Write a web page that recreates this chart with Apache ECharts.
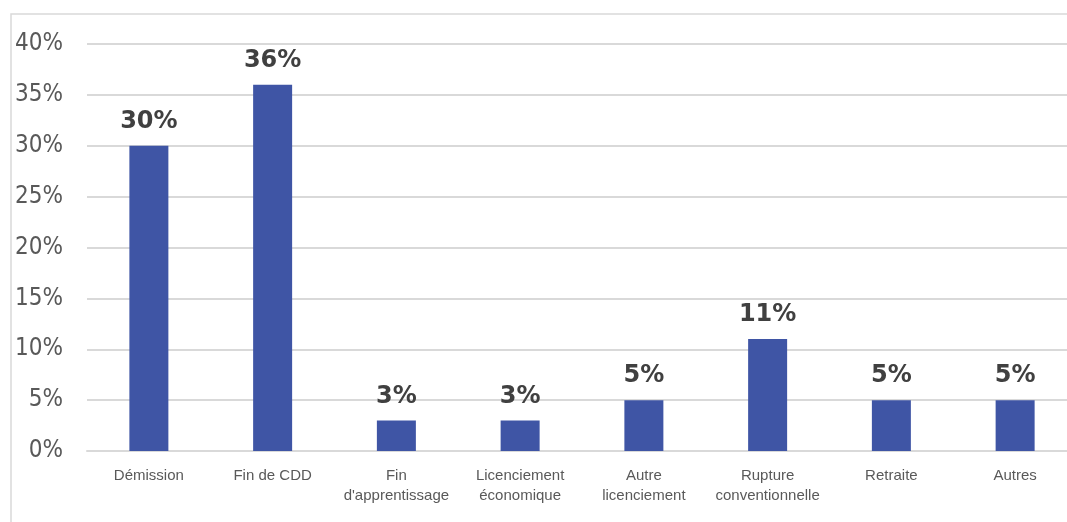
<!DOCTYPE html>
<html><head><meta charset="utf-8">
<script src="https://cdn.jsdelivr.net/npm/echarts@6/dist/echarts.min.js"></script>
<style>html,body{margin:0;padding:0;background:#fff}#c{width:1067px;height:522px}</style>
</head><body><div id="c"></div>
<script>
const categories = ['Démission','Fin de CDD',"Fin\nd'apprentissage",'Licenciement\néconomique','Autre\nlicenciement','Rupture\nconventionnelle','Retraite','Autres'];
const values = [30, 36, 3, 3, 5, 11, 5, 5];
const yTicks = {min: 0, max: 40, interval: 5};

const chart = echarts.init(document.getElementById('c'), null, {renderer: 'canvas'});
chart.setOption({
  animation: false,
  backgroundColor: '#fff',
  graphic: [{
    type: 'rect', z: -10,
    shape: {x: 11, y: 14, width: 1200, height: 700},
    style: {fill: 'none', stroke: '#D9D9D9', lineWidth: 1.5}
  }],
  grid: {left: 87, width: 990, top: 44, bottom: 71, containLabel: false, outerBoundsMode: 'none'},
  xAxis: {
    type: 'category', data: categories,
    axisLine: {show: true, lineStyle: {color: '#D9D9D9', width: 2}},
    axisTick: {show: false},
    axisLabel: {interval: 0, color: '#595959', fontFamily: 'Liberation Sans', fontSize: 15, lineHeight: 20, margin: 15}
  },
  yAxis: {
    type: 'value', min: yTicks.min, max: yTicks.max, interval: yTicks.interval,
    axisLine: {show: false}, axisTick: {show: false},
    splitLine: {lineStyle: {color: '#D9D9D9', width: 2}},
    axisLabel: {formatter: v => v + '%', color: '#595959', fontFamily: "'DejaVu Sans Condensed', 'DejaVu Sans'", fontSize: 24, margin: 24}
  },
  series: [{
    type: 'bar', data: values, barWidth: 39,
    itemStyle: {color: '#3F55A5'},
    label: {show: true, position: 'top', distance: 12, formatter: p => p.value + '%',
      color: '#404040', fontFamily: 'DejaVu Sans', fontWeight: 'bold', fontSize: 24}
  }]
});
</script></body></html>
